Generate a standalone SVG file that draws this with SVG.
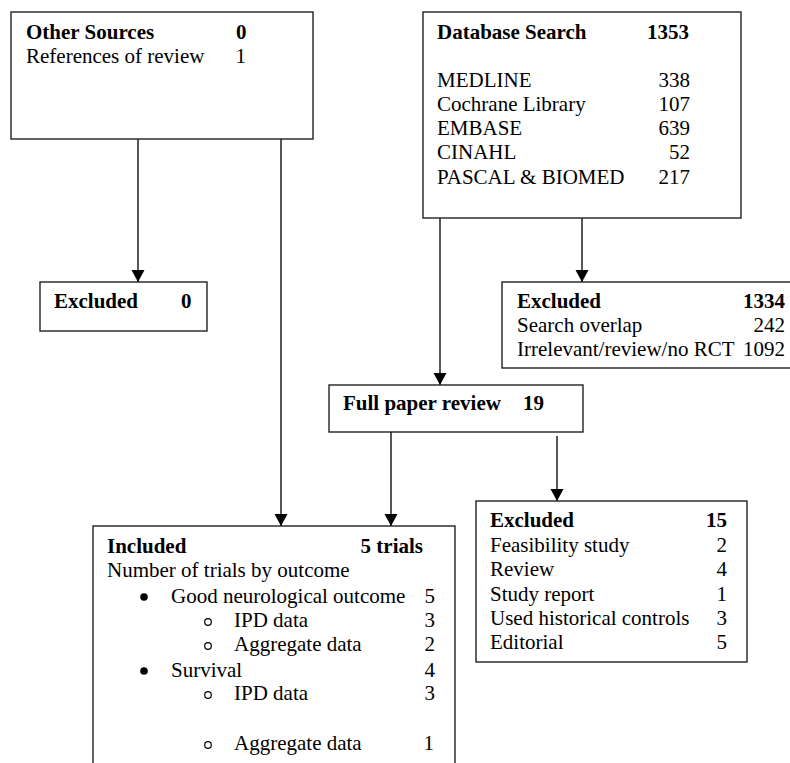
<svg xmlns="http://www.w3.org/2000/svg" width="790" height="763" viewBox="0 0 790 763">
<style>
  text { font-family: "Liberation Serif", "Times New Roman", serif; font-size: 21px; fill: #000; }
  .b { font-weight: bold; }
  .r { text-anchor: end; }
  .box { fill: #fff; stroke: #222; stroke-width: 1.4; }
  .conn { stroke: #111; stroke-width: 1.4; fill: none; marker-end: url(#arr); }
  .dot { fill: #000; }
  .ring { fill: none; stroke: #000; stroke-width: 1.2; }
</style>
<defs>
  <marker id="arr" markerUnits="userSpaceOnUse" markerWidth="13" markerHeight="14" refX="12" refY="6.5" orient="auto">
    <path d="M0,0 L12,6.5 L0,13 z" fill="#000"/>
  </marker>
</defs>
<rect width="790" height="763" fill="#fff"/>

<g id="connectors">
  <line class="conn" x1="138" y1="139" x2="138" y2="282"/>
  <line class="conn" x1="281" y1="139" x2="281" y2="526"/>
  <line class="conn" x1="582" y1="218" x2="582" y2="282"/>
  <line class="conn" x1="440" y1="218" x2="440" y2="385"/>
  <line class="conn" x1="391" y1="432" x2="391" y2="526"/>
  <line class="conn" x1="557" y1="436" x2="557" y2="501"/>
</g>

<g id="other-sources">
  <rect class="box" x="11" y="12" width="302" height="127"/>
  <text class="b" x="26" y="39">Other Sources</text>
  <text class="b" x="236" y="39">0</text>
  <text x="26" y="63">References of review</text>
  <text class="r" x="246" y="63">1</text>
</g>

<g id="excluded-other">
  <rect class="box" x="40" y="282" width="167" height="49"/>
  <text class="b" x="54" y="308">Excluded</text>
  <text class="b" x="181" y="308">0</text>
</g>

<g id="database-search">
  <rect class="box" x="423" y="12" width="318" height="206"/>
  <text class="b" x="437" y="39">Database Search</text>
  <text class="b r" x="689" y="39">1353</text>
  <text x="437" y="87">MEDLINE</text>
  <text class="r" x="690" y="87">338</text>
  <text x="437" y="111">Cochrane Library</text>
  <text class="r" x="690" y="111">107</text>
  <text x="437" y="135">EMBASE</text>
  <text class="r" x="690" y="135">639</text>
  <text x="437" y="159">CINAHL</text>
  <text class="r" x="690" y="159">52</text>
  <text x="437" y="184">PASCAL &amp; BIOMED</text>
  <text class="r" x="690" y="184">217</text>
</g>

<g id="excluded-database">
  <rect class="box" x="502" y="282" width="292" height="86"/>
  <text class="b" x="517" y="308">Excluded</text>
  <text class="b r" x="785" y="308">1334</text>
  <text x="517" y="332">Search overlap</text>
  <text class="r" x="785" y="332">242</text>
  <text x="517" y="356">Irrelevant/review/no RCT</text>
  <text class="r" x="785" y="356">1092</text>
</g>

<g id="full-paper-review">
  <rect class="box" x="329" y="385" width="254" height="47"/>
  <text class="b" x="343" y="410">Full paper review</text>
  <text class="b" x="523" y="410">19</text>
</g>

<g id="included">
  <rect class="box" x="93" y="526" width="362" height="250"/>
  <text class="b" x="107" y="553">Included</text>
  <text class="b r" x="423" y="553">5 trials</text>
  <text x="107" y="577">Number of trials by outcome</text>
  <circle class="dot" cx="144" cy="597" r="3.8"/>
  <text x="171" y="603">Good neurological outcome</text>
  <text class="r" x="435" y="603">5</text>
  <circle class="ring" cx="208" cy="622" r="3.3"/>
  <text x="234" y="627">IPD data</text>
  <text class="r" x="435" y="627">3</text>
  <circle class="ring" cx="208" cy="646" r="3.3"/>
  <text x="234" y="651">Aggregate data</text>
  <text class="r" x="435" y="651">2</text>
  <circle class="dot" cx="144" cy="671" r="3.8"/>
  <text x="171" y="677">Survival</text>
  <text class="r" x="435" y="677">4</text>
  <circle class="ring" cx="208" cy="695" r="3.3"/>
  <text x="234" y="700">IPD data</text>
  <text class="r" x="435" y="700">3</text>
  <circle class="ring" cx="208" cy="745" r="3.3"/>
  <text x="234" y="750">Aggregate data</text>
  <text class="r" x="434" y="750">1</text>
</g>

<g id="excluded-full">
  <rect class="box" x="476" y="501" width="271" height="161"/>
  <text class="b" x="490" y="527">Excluded</text>
  <text class="b r" x="727" y="527">15</text>
  <text x="490" y="552">Feasibility study</text>
  <text class="r" x="727" y="552">2</text>
  <text x="490" y="576">Review</text>
  <text class="r" x="727" y="576">4</text>
  <text x="490" y="601">Study report</text>
  <text class="r" x="727" y="601">1</text>
  <text x="490" y="625">Used historical controls</text>
  <text class="r" x="727" y="625">3</text>
  <text x="490" y="649">Editorial</text>
  <text class="r" x="727" y="649">5</text>
</g>
</svg>
